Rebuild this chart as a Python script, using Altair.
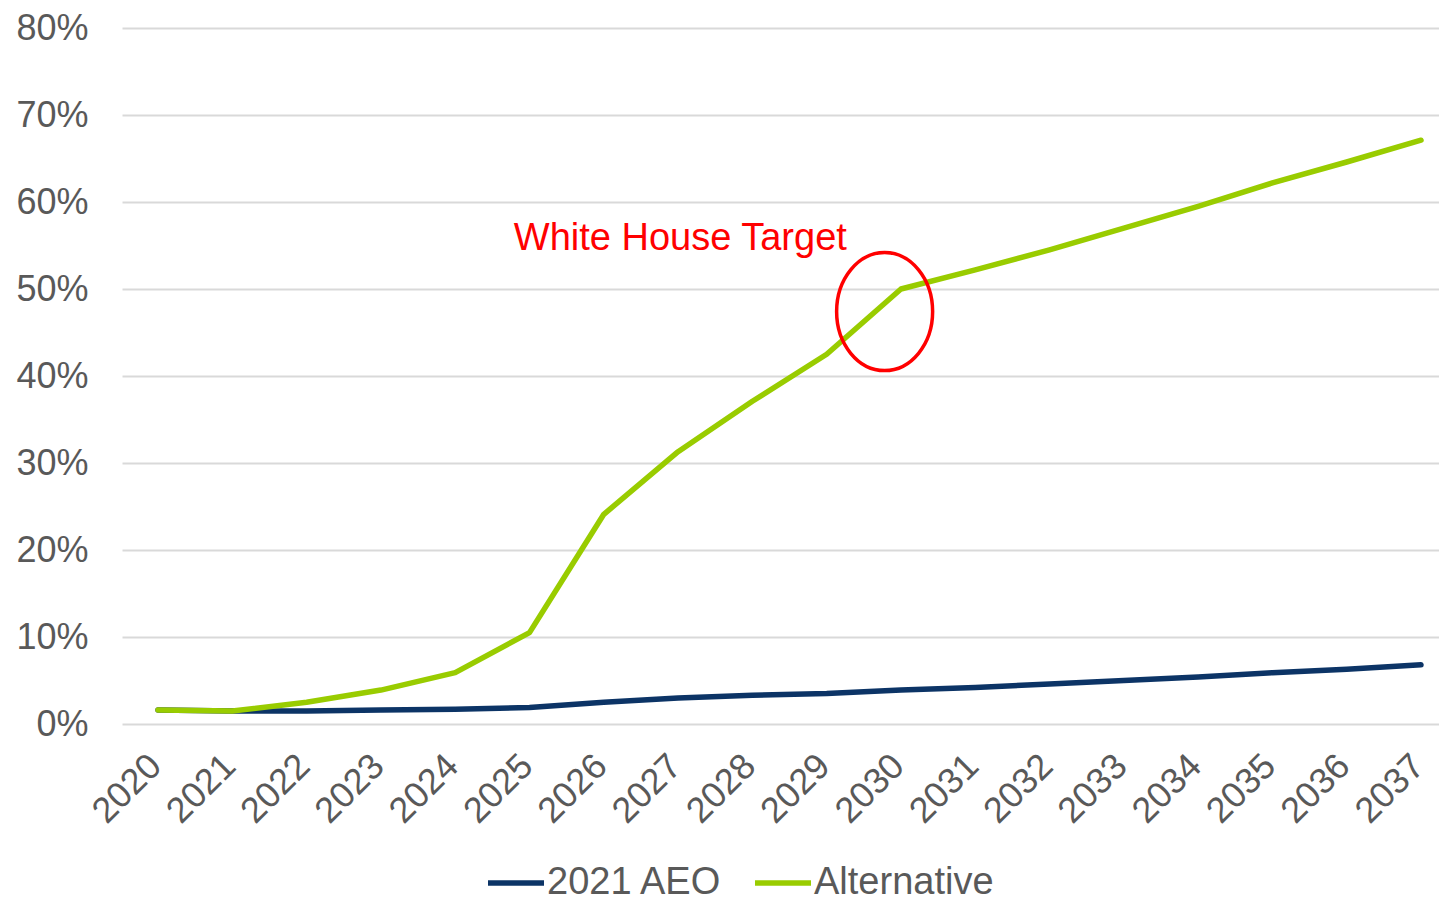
import altair as alt
import pandas as pd

years = list(range(2020, 2038))
aeo_2021 = [1.6, 1.5, 1.5, 1.6, 1.7, 1.9, 2.5, 3.0, 3.3, 3.5, 3.9, 4.2, 4.6, 5.0, 5.4, 5.9, 6.3, 6.8]
alternative = [1.6, 1.5, 2.5, 3.9, 5.9, 10.5, 24.1, 31.3, 37.1, 42.5, 50.0, 52.2, 54.5, 57.0, 59.5, 62.2, 64.6, 67.1]
series_names = ["2021 AEO", "Alternative"]
series_colors = ["#0c3466", "#99cc00"]
y_ticks = [0, 0.1, 0.2, 0.3, 0.4, 0.5, 0.6, 0.7, 0.8]

annot_text = ["White House Target"]
annot_text_x = [2027.03]
annot_text_y = [0.5448]
target_x = [2029.78]
target_y = [0.474]

rows = []
for name, vals in zip(series_names, [aeo_2021, alternative]):
    for yr, v in zip(years, vals):
        rows.append({"year": yr, "value": v / 100.0, "series": name})
df = pd.DataFrame(rows)

FONT = "Liberation Sans"
GREY = "#595959"

x_scale = alt.Scale(domain=[2019.515, 2037.242], nice=False, zero=False)
y_scale = alt.Scale(domain=[0, 0.8], nice=False)

x_axis = alt.Axis(values=years, format="d", title=None, labelAngle=315,
                  labelAlign="right", labelBaseline="top", labelPadding=24,
                  labelOffset=-15, ticks=False, domain=False, grid=False,
                  labelFont=FONT, labelFontSize=36, labelColor=GREY,
                  labelOverlap=False, labelFlush=False)
y_axis = alt.Axis(values=y_ticks, format=".0%", title=None, ticks=False, domain=False,
                  grid=True, gridColor="#d9d9d9", gridWidth=2,
                  labelFont=FONT, labelFontSize=36, labelColor=GREY, labelPadding=34)

lines = alt.Chart(df).mark_line(strokeWidth=5.5, strokeCap="round", strokeJoin="round").encode(
    x=alt.X("year:Q", scale=x_scale, axis=x_axis),
    y=alt.Y("value:Q", scale=y_scale, axis=y_axis),
    color=alt.Color("series:N",
                    scale=alt.Scale(domain=series_names, range=series_colors),
                    legend=alt.Legend(title=None, orient="none", legendX=363, legendY=824,
                                      direction="horizontal", symbolType="stroke",
                                      symbolSize=3136, symbolStrokeWidth=5.5,
                                      labelFont=FONT, labelFontSize=38, labelColor=GREY,
                                      labelOffset=0, columnPadding=21, labelLimit=400)),
)

text_df = pd.DataFrame({"x": annot_text_x, "y": annot_text_y, "t": annot_text})
label = alt.Chart(text_df).mark_text(font=FONT, fontSize=38, color="#ff0000",
                                     align="center", baseline="alphabetic").encode(
    x=alt.X("x:Q", scale=x_scale, axis=x_axis), y=alt.Y("y:Q", scale=y_scale, axis=y_axis), text="t:N")

ell_df = pd.DataFrame({"x": target_x, "y": target_y})
ellipse = alt.Chart(ell_df).mark_point(
    shape="M -0.8136,0 A 0.8136,1 0 1,0 0.8136,0 A 0.8136,1 0 1,0 -0.8136,0 Z",
    filled=False, stroke="#ff0000", strokeWidth=3.5, size=13924, opacity=1).encode(
    x=alt.X("x:Q", scale=x_scale, axis=x_axis), y=alt.Y("y:Q", scale=y_scale, axis=y_axis))

chart = alt.layer(lines, label, ellipse).properties(
    width=1317, height=696,
    background="white",
    autosize=alt.AutoSizeParams(type="none"),
    padding={"left": 114, "top": 20, "right": 0, "bottom": 175},
).configure_view(stroke="transparent", strokeWidth=0).configure_axis(domain=False)

chart.save("out.html", embed_options={"renderer": "svg", "actions": False})
